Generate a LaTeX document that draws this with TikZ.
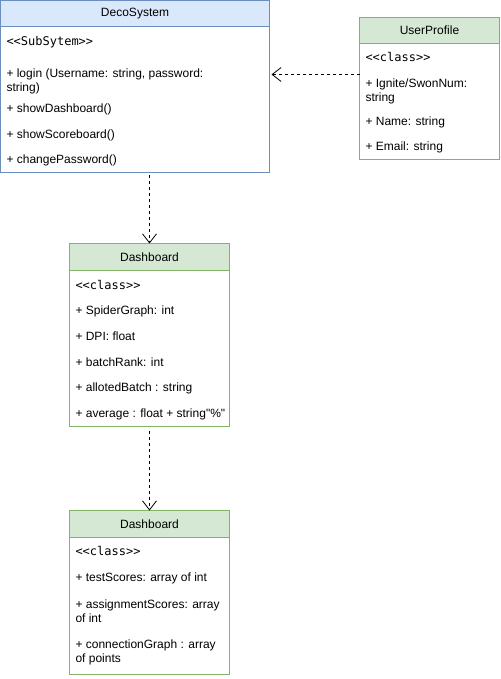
\documentclass[tikz,border=0pt]{standalone}
\usepackage{fontspec}
\setmainfont{Liberation Sans}
\setmonofont{DejaVu Sans Mono}
\newfontfamily\quotefont{Liberation Sans}
\usepackage{tikz}
\usetikzlibrary{arrows.meta, positioning}

\definecolor{blueFill}{HTML}{DAE8FC}
\definecolor{blueLine}{HTML}{6C8EBF}
\definecolor{greenFill}{HTML}{D5E8D4}
\definecolor{greenLine}{HTML}{82B366}

\begin{document}
\begin{tikzpicture}[x=1pt, y=-1pt, line width=1pt,
  font=\fontsize{12}{14}\selectfont,
  hdr/.style={draw, anchor=north west, inner sep=0pt, outer sep=0pt},
  body/.style={draw, inner sep=0pt, outer sep=0pt, below=0pt of #1},
  member/.style={anchor=west, inner sep=0pt, align=left},
  stereo/.style={member, font=\fontsize{12}{14}\selectfont\ttfamily},
  depends/.style={dashed, dash pattern=on 3pt off 3pt, -{Straight Barb[length=9pt, width=14pt]}, line width=0.8pt}]
  \useasboundingbox (0,0) rectangle (500,679);

  %% DecoSystem
  \node[hdr, fill=blueFill, draw=blueLine, minimum width=269pt, minimum height=26pt] (decoH) at (0.5,0.5) {DecoSystem};
  \node[body=decoH, draw=blueLine, minimum width=269pt, minimum height=146pt] (decoB) {};
  \node[stereo] (decoS) at (6,42) {<<SubSytem>>};
  \node[member] (decoM1) at (6,81) {+ login (Username: string, password:\\string)};
  \node[member] (decoM2) at (6,109) {+ showDashboard()};
  \node[member] (decoM3) at (6,135) {+ showScoreboard()};
  \node[member] (decoM4) at (6,160) {+ changePassword()};

  %% UserProfile
  \node[hdr, fill=greenFill, draw=greenLine, minimum width=140pt, minimum height=26pt] (userH) at (359.5,17.5) {UserProfile};
  \node[body=userH, draw=greenLine, minimum width=140pt, minimum height=116pt] (userB) {};
  \node[stereo] (userS) at (365,57) {<<class>>};
  \node[member] (userM1) at (365,91) {+ Ignite/SwonNum:\\string};
  \node[member] (userM2) at (365,122) {+ Name: string};
  \node[member] (userM3) at (365,147) {+ Email: string};

  %% Dashboard (stats)
  \node[hdr, fill=greenFill, draw=greenLine, minimum width=160pt, minimum height=27pt] (dashH) at (69.5,243.5) {Dashboard};
  \node[body=dashH, draw=greenLine, minimum width=160pt, minimum height=156pt] (dashB) {};
  \node[stereo] (dashS) at (75,285) {<<class>>};
  \node[member] (dashM1) at (75,311) {+ SpiderGraph: int};
  \node[member] (dashM2) at (75,336) {+ DPI: float};
  \node[member] (dashM3) at (75,362) {+ batchRank: int};
  \node[member] (dashM4) at (75,388) {+ allotedBatch : string};
  \node[member] (dashM5) at (75,414) {+ average : float + string{\quotefont"\%"}};

  %% Dashboard (scores)
  \node[hdr, fill=greenFill, draw=greenLine, minimum width=160pt, minimum height=27pt] (scoreH) at (69.5,510.5) {Dashboard};
  \node[body=scoreH, draw=greenLine, minimum width=160pt, minimum height=137pt] (scoreB) {};
  \node[stereo] (scoreS) at (75,551) {<<class>>};
  \node[member] (scoreM1) at (75,578) {+ testScores: array of int};
  \node[member] (scoreM2) at (75,611) {+ assignmentScores: array\\of int};
  \node[member] (scoreM3) at (75,652) {+ connectionGraph : array\\of points};

  %% dependencies
  \coordinate (userP) at (359.5,74.5);
  \coordinate (decoP) at ([xshift=2pt]userP -| decoB.east);
  \draw[depends] (userP) -- (decoP);
  \draw[depends] ([yshift=-2pt]decoB.south -| dashH.north) -- (dashH.north);
  \draw[depends] ([yshift=-4pt]dashB.south) -- (scoreH.north);
\end{tikzpicture}
\end{document}
